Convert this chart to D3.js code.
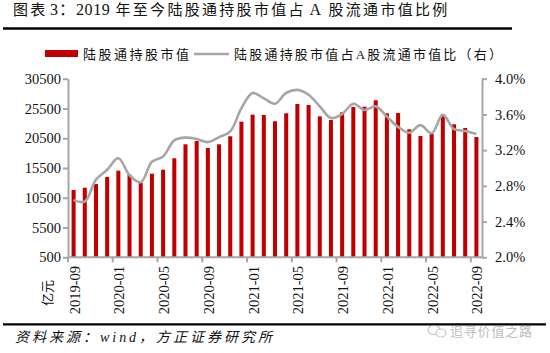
<!DOCTYPE html>
<html><head><meta charset="utf-8">
<script src="https://cdn.jsdelivr.net/npm/d3@7"></script>
<style>body{margin:0;background:#fff}svg{display:block}</style>
</head><body>
<svg id="c" width="550" height="353"></svg>
<script>
const months = ["2019-09","2019-10","2019-11","2019-12","2020-01","2020-02","2020-03","2020-04","2020-05","2020-06","2020-07","2020-08","2020-09","2020-10","2020-11","2020-12","2021-01","2021-02","2021-03","2021-04","2021-05","2021-06","2021-07","2021-08","2021-09","2021-10","2021-11","2021-12","2022-01","2022-02","2022-03","2022-04","2022-05","2022-06","2022-07","2022-08","2022-09"];
const holdValue = [11800,12190,12810,13990,15050,14380,12980,14540,15210,17130,19480,20040,18860,19480,20830,23280,24460,24400,23350,24690,26250,26080,24180,23560,24860,25750,25800,26880,24690,24740,22000,20870,21260,24570,22840,22220,20700];
const holdRatio = [2.64,2.625,2.87,2.98,3.11,2.92,2.84,3.07,3.13,3.31,3.34,3.325,3.29,3.345,3.41,3.67,3.84,3.78,3.72,3.84,3.875,3.82,3.69,3.56,3.605,3.72,3.65,3.69,3.575,3.46,3.395,3.48,3.39,3.595,3.435,3.415,3.38];
const leftTicks = [500,5500,10500,15500,20500,25500,30500];
const rightTicks = [2.0,2.4,2.8,3.2,3.6,4.0];
const xTickLabels = ["2019-09","2020-01","2020-05","2020-09","2021-01","2021-05","2021-09","2022-01","2022-05","2022-09"];

const svg = d3.select("#c");
const serif = "'Liberation Serif','Times New Roman','Noto Sans CJK SC',serif";
const cjk = "'Liberation Serif','Noto Sans CJK SC',sans-serif";
const L = 68, R = 482, T = 78.7, B = 257.3;
const axisColor = "#a6a6a6";

const x = d3.scaleBand().domain(months).range([L, R]).paddingInner(0.64).paddingOuter(0.32);
const yL = d3.scaleLinear().domain([500, 30500]).range([B, T]);
const yR = d3.scaleLinear().domain([2.0, 4.0]).range([B, T]);

// Title (pieces placed to match the reference spacing)
const titleParts = [
  {t: "图表", x: 13, ls: 2.3},
  {t: "3：", x: 50, ls: 1},
  {t: "2019", x: 76, ls: 0.6},
  {t: "年至今陆股通持股市值占", x: 115.5, ls: 2.3},
  {t: "A", x: 309.5, ls: 0},
  {t: "股流通市值比例", x: 328.5, ls: 2.3}
];
const title = svg.append("text").attr("y", 15).attr("font-family", cjk).attr("font-size", 15).attr("fill", "#111");
titleParts.forEach(p => title.append("tspan").attr("x", p.x).attr("letter-spacing", p.ls)
  .attr("font-size", /[0-9A]/.test(p.t) ? 16 : 15).text(p.t));
svg.append("line").attr("x1", 3).attr("x2", 512).attr("y1", 28.6).attr("y2", 28.6)
  .attr("stroke", "#000").attr("stroke-width", 2.5);

// Legend
svg.append("rect").attr("x", 45).attr("y", 50).attr("width", 33).attr("height", 7).attr("fill", "#C00000");
svg.append("text").attr("x", 83).attr("y", 58.5).attr("font-family", cjk).attr("font-size", 13)
  .attr("textLength", 106).attr("lengthAdjust", "spacing").attr("fill", "#111").text("陆股通持股市值");
svg.append("line").attr("x1", 194).attr("x2", 229).attr("y1", 54).attr("y2", 54)
  .attr("stroke", "#a6a6a6").attr("stroke-width", 2.5);
svg.append("text").attr("x", 234).attr("y", 58.5).attr("font-family", cjk).attr("font-size", 13)
  .attr("textLength", 268).attr("lengthAdjust", "spacing").attr("fill", "#111").text("陆股通持股市值占A股流通市值比（右）");

// Bars
svg.append("g").selectAll("rect").data(months).join("rect")
  .attr("x", (d) => x(d)).attr("width", x.bandwidth())
  .attr("y", (d, i) => yL(holdValue[i])).attr("height", (d, i) => B - yL(holdValue[i]))
  .attr("fill", "#C00000");

// Line
const line = d3.line().x((d, i) => x(months[i]) + x.bandwidth() / 2).y(d => yR(d)).curve(d3.curveCatmullRom.alpha(0.5));
svg.append("path").datum(holdRatio).attr("d", line).attr("fill", "none")
  .attr("stroke", "#a6a6a6").attr("stroke-width", 2.6);

// Left axis
const gL = svg.append("g").attr("transform", `translate(${L},0)`)
  .call(d3.axisLeft(yL).tickValues(leftTicks).tickSize(5).tickSizeOuter(0).tickPadding(2).tickFormat(d => d));
// Right axis
const gR = svg.append("g").attr("transform", `translate(${R},0)`)
  .call(d3.axisRight(yR).tickValues(rightTicks).tickSize(5).tickSizeOuter(0).tickPadding(8).tickFormat(d => d.toFixed(1) + "%"));
[gL, gR].forEach(g => {
  g.select(".domain").attr("stroke", axisColor).attr("stroke-width", 2);
  g.selectAll(".tick line").attr("stroke", axisColor).attr("stroke-width", 2);
  g.selectAll("text").attr("font-family", serif).attr("font-size", 14.5).attr("fill", "#111");
});

// Bottom axis
const step = x.step();
const boundary = m => x(m) + x.bandwidth() / 2 - step / 2;
svg.append("line").attr("x1", L).attr("x2", R).attr("y1", B).attr("y2", B).attr("stroke", axisColor).attr("stroke-width", 2);
const gX = svg.append("g");
gX.selectAll("line").data(xTickLabels).join("line")
  .attr("x1", d => boundary(d)).attr("x2", d => boundary(d)).attr("y1", B).attr("y2", B + 5)
  .attr("stroke", axisColor).attr("stroke-width", 2);
gX.selectAll("text").data(xTickLabels).join("text")
  .attr("transform", d => `translate(${x(d) + x.bandwidth() / 2 + 1},266) rotate(-90)`)
  .attr("text-anchor", "end").attr("dy", "0.35em")
  .attr("font-family", serif).attr("font-size", 14.5).attr("fill", "#111").text(d => d);

// Unit
svg.append("text").attr("transform", "translate(47,293) rotate(-90)").attr("text-anchor", "middle").attr("dy", "0.35em")
  .attr("font-family", cjk).attr("font-size", 13).attr("fill", "#111").text("亿元");

// Bottom rule + source
svg.append("line").attr("x1", 3).attr("x2", 546).attr("y1", 324.3).attr("y2", 324.3)
  .attr("stroke", "#000").attr("stroke-width", 2.2);
svg.append("text").attr("x", 15).attr("y", 342).attr("font-family", cjk).attr("font-size", 14)
  .attr("font-style", "italic").attr("textLength", 257).attr("lengthAdjust", "spacing").attr("fill", "#111")
  .text("资料来源：wind，方正证券研究所");

// Watermark
const wm = svg.append("g").attr("opacity", 0.55);
wm.append("ellipse").attr("cx", 434).attr("cy", 330).attr("rx", 6).attr("ry", 4.5).attr("fill", "none").attr("stroke", "#999").attr("stroke-width", 1.2);
wm.append("ellipse").attr("cx", 441).attr("cy", 333).attr("rx", 5).attr("ry", 4).attr("fill", "#fff").attr("stroke", "#999").attr("stroke-width", 1.2);
wm.append("text").attr("x", 450).attr("y", 336).attr("font-family", "'Noto Sans CJK SC',sans-serif").attr("font-size", 13)
  .attr("textLength", 82).attr("lengthAdjust", "spacing").attr("fill", "#888").text("追寻价值之路");
</script>
</body></html>
